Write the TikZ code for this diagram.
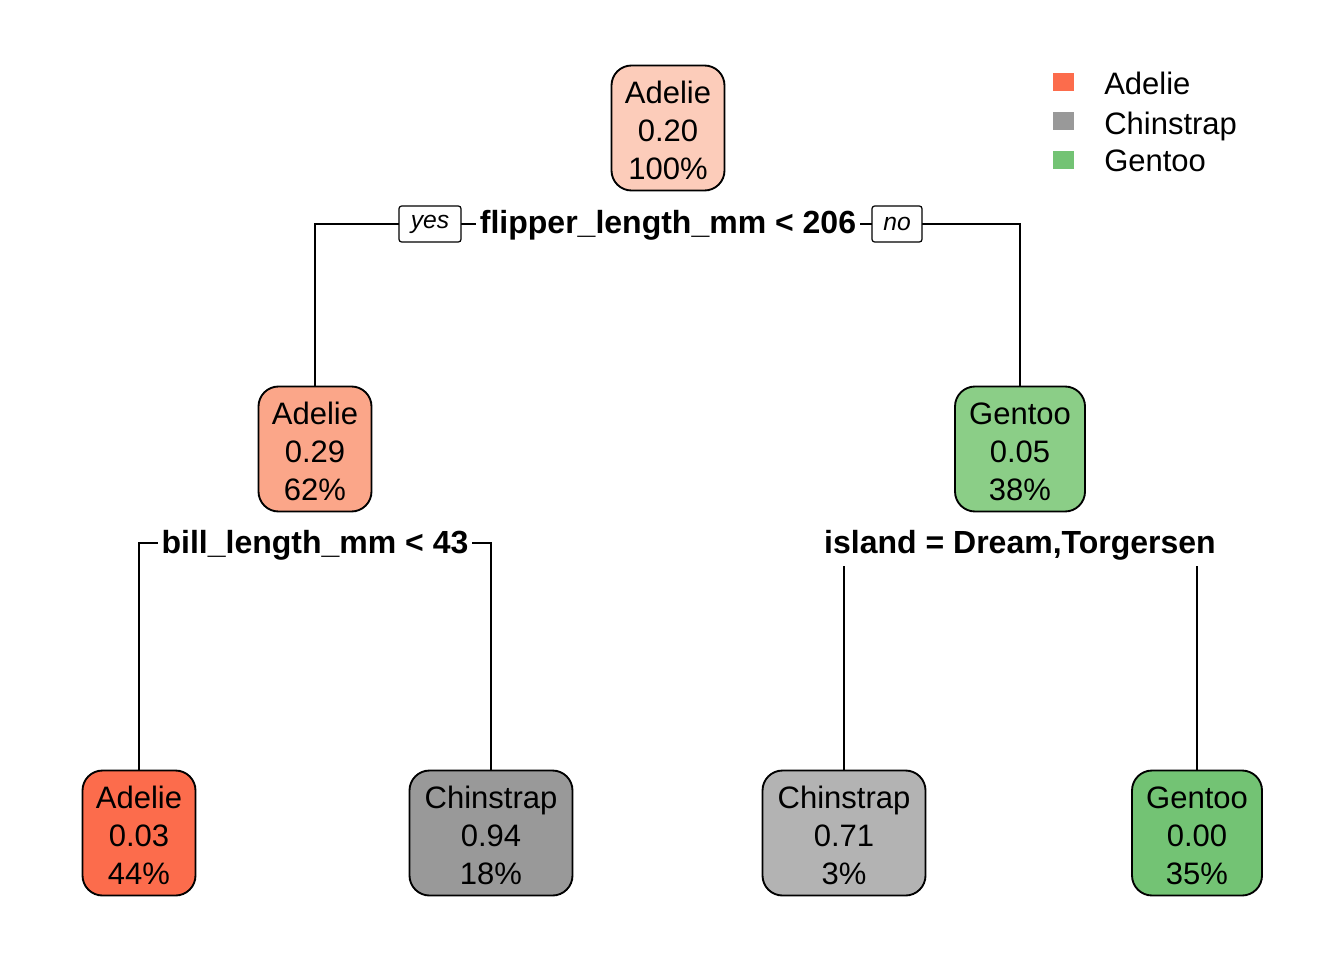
\documentclass[tikz,border=0pt]{standalone}
\usepackage{fontspec}
\setmainfont{Liberation Sans}
\usetikzlibrary{backgrounds}
\newcommand\pxu{0.75pt}
\newcommand\tstrut{\rule{0pt}{20pt}}
\definecolor{cAdLeaf}{RGB}{252,108,76}
\definecolor{cAdRoot}{RGB}{252,204,186}
\definecolor{cAdMid}{RGB}{251,166,137}
\definecolor{cChA}{RGB}{153,153,153}
\definecolor{cChB}{RGB}{179,179,179}
\definecolor{cGeMid}{RGB}{139,206,135}
\definecolor{cGeLeaf}{RGB}{115,195,116}
\begin{document}
\begin{tikzpicture}[x=0.75pt,y=-0.75pt,
  tnode/.style={draw=black, line width=1.4pt, rounded corners=15pt, minimum height=125*\pxu, inner sep=0pt, align=center, font=\fontsize{23.25pt}{28.5pt}\selectfont},
  splitlab/.style={fill=white, inner xsep=3pt, inner ysep=1pt, font=\bfseries\fontsize{24pt}{28pt}\selectfont},
  yn/.style={draw=black, fill=white, line width=0.9pt, rounded corners=2pt, font=\itshape\fontsize{18.5pt}{22pt}\selectfont, minimum height=36*\pxu, inner sep=0pt},
  conn/.style={line width=1.2pt},
  legsq/.style={minimum width=21*\pxu, minimum height=18*\pxu, inner sep=0pt},
  legtx/.style={anchor=base west, inner sep=0pt, font=\fontsize{23.25pt}{28pt}\selectfont}]
\useasboundingbox (0,0) rectangle (1344,960);

% tree nodes
\node[tnode, fill=cAdRoot, minimum width=113*\pxu] (root) at (668,128) {\tstrut Adelie\\0.20\\100\%};
\node[tnode, fill=cAdMid, minimum width=113*\pxu] (m1) at (315,449) {\tstrut Adelie\\0.29\\62\%};
\node[tnode, fill=cGeMid, minimum width=130*\pxu] (m2) at (1020,449) {\tstrut Gentoo\\0.05\\38\%};
\node[tnode, fill=cAdLeaf, minimum width=113*\pxu] (l1) at (139,833) {\tstrut Adelie\\0.03\\44\%};
\node[tnode, fill=cChA, minimum width=163*\pxu] (l2) at (491,833) {\tstrut Chinstrap\\0.94\\18\%};
\node[tnode, fill=cChB, minimum width=163*\pxu] (l3) at (844,833) {\tstrut Chinstrap\\0.71\\3\%};
\node[tnode, fill=cGeLeaf, minimum width=130*\pxu] (l4) at (1197,833) {\tstrut Gentoo\\0.00\\35\%};

% split labels
\node[splitlab] (s1) at (668,225) {flipper\_length\_mm < 206};
\node[yn, minimum width=62*\pxu] (yes) at (430,224) {yes};
\node[yn, minimum width=50*\pxu] (no) at (897,224) {no};
\node[splitlab] (s2) at (315,545) {bill\_length\_mm < 43};
\node[splitlab] (s3) at (1020,545) {island = Dream,Torgersen};

\coordinate (j1) at (668,224);
\coordinate (j2) at (315,543);
\coordinate (c3a) at (844,566);
\coordinate (c3b) at (1197,566);

\begin{scope}[on background layer]
  \fill[white] (0,0) rectangle (1344,960);
  \draw[conn] (m1.north) |- (j1) -| (m2.north);
  \draw[conn] (l1.north) |- (j2) -| (l2.north);
  \draw[conn] (c3a) -- (l3.north);
  \draw[conn] (c3b) -- (l4.north);
\end{scope}

% legend
\node[legsq, fill=cAdLeaf] (ka) at (1063.5,82) {};
\node[legsq, fill=cChA] (kc) at (1063.5,120.5) {};
\node[legsq, fill=cGeLeaf] (kg) at (1063.5,159.5) {};
\node[legtx] (ta) at (1104,94) {Adelie};
\node[legtx] (tc) at (1104,134) {Chinstrap};
\node[legtx] (tg) at (1104,171) {Gentoo};
\end{tikzpicture}
\end{document}
